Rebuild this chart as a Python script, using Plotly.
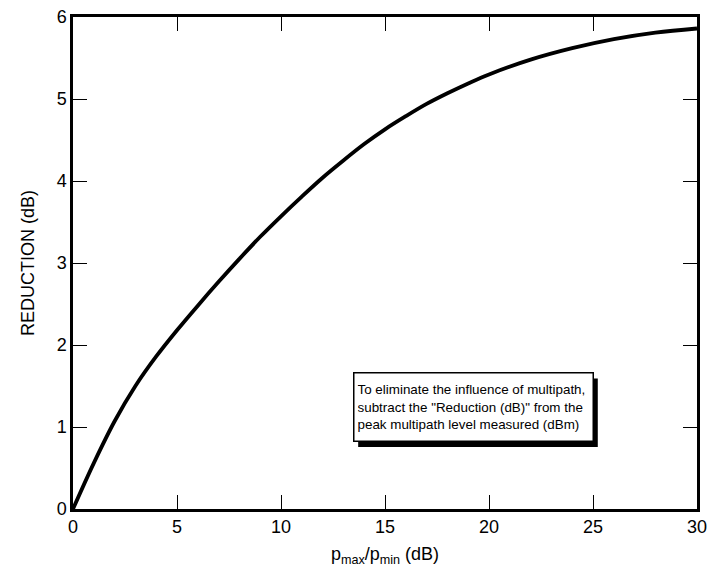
import plotly.graph_objects as go

# Data
ratio_db = [0, 1, 2, 3, 4, 5, 6, 7, 8, 9, 10, 11, 12, 13, 14, 15, 16, 17, 18, 19, 20, 22, 24, 26, 28, 30]
reduction_db = [0, 0.56, 1.07, 1.50, 1.86, 2.18, 2.48, 2.77, 3.05, 3.32, 3.57, 3.81, 4.04, 4.25,
                4.45, 4.63, 4.79, 4.94, 5.07, 5.19, 5.30, 5.48, 5.62, 5.73, 5.81, 5.86]

x_ticks = [0, 5, 10, 15, 20, 25, 30]
y_ticks = [0, 1, 2, 3, 4, 5, 6]

note_text = ("To eliminate the influence of multipath,<br>"
             "subtract the \"Reduction (dB)\" from the<br>"
             "peak multipath level measured (dBm)")

fig = go.Figure()
fig.add_trace(go.Scatter(x=ratio_db, y=reduction_db, mode="lines",
                         line=dict(color="black", width=3.8, shape="spline", smoothing=1.0),
                         showlegend=False, hoverinfo="skip"))

font_family = "Liberation Sans, Arial, sans-serif"

axis_common = dict(showgrid=False, zeroline=False, showline=True, linecolor="black",
                   linewidth=2.5, mirror="ticks", ticks="inside", ticklen=14, tickwidth=1.3,
                   tickcolor="black", automargin=False,
                   tickfont=dict(family=font_family, size=18, color="black"))

fig.update_xaxes(range=[0, 30], tickvals=x_ticks, ticktext=[str(v) for v in x_ticks],
                 title=dict(text="p<sub>max</sub>/p<sub>min</sub> (dB)",
                            font=dict(family=font_family, size=18, color="black"), standoff=12),
                 **axis_common)
fig.update_yaxes(range=[0, 6], tickvals=y_ticks, ticktext=[str(v) for v in y_ticks],
                 title=dict(text="REDUCTION (dB)",
                            font=dict(family=font_family, size=18, color="black"), standoff=18),
                 **axis_common)

# shadow for the note box
fig.add_shape(type="rect", xref="paper", yref="paper",
              x0=0.457, x1=0.841, y0=0.126, y1=0.265,
              fillcolor="black", line=dict(width=0), layer="above")
fig.add_annotation(xref="paper", yref="paper", x=0.449, y=0.279, xanchor="left", yanchor="top",
                   text=note_text, showarrow=False, align="left",
                   font=dict(family=font_family, size=13.4, color="black"),
                   bgcolor="white", bordercolor="black", borderwidth=1.5, borderpad=3,
                   width=232, height=61)

fig.update_layout(width=711, height=577, margin=dict(l=73, r=14, t=17, b=68),
                  paper_bgcolor="white", plot_bgcolor="white")

fig.write_html("out.html")
